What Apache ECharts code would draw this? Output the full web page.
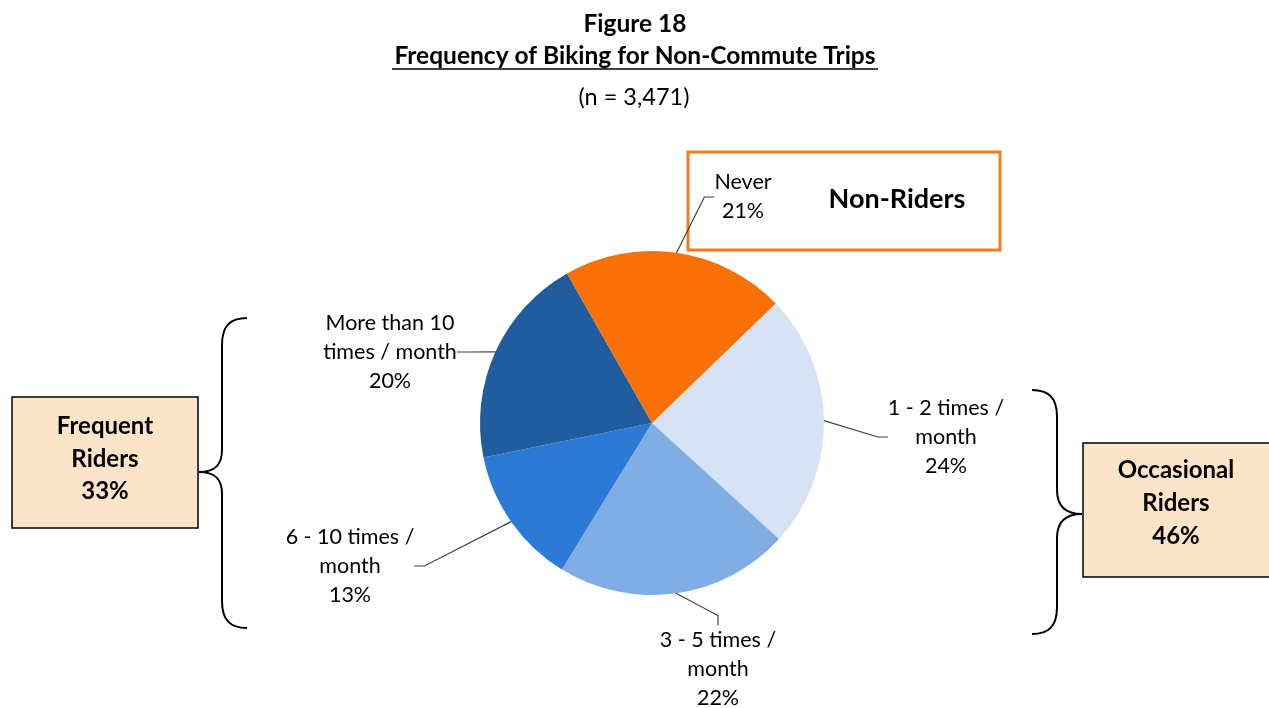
<!DOCTYPE html>
<html>
<head>
<meta charset="utf-8">
<script src="https://cdn.jsdelivr.net/npm/echarts@6/dist/echarts.min.js"></script>
<style>
  html, body { margin: 0; padding: 0; background: #fff; }
  #chart { width: 1269px; height: 708px; }
</style>
</head>
<body>
<div id="chart"></div>
<script>
// slice data, clockwise from the Never / 1-2 boundary
const categories = ['1 - 2 times /\nmonth', '3 - 5 times /\nmonth', '6 - 10 times /\nmonth', 'More than 10\ntimes / month', 'Never']
const percents = [24, 22, 13, 20, 21]
const colors = ['#D5E3F5', '#80AEE4', '#2D7AD6', '#215C9F', '#F87006']

// group boxes
const groupNames = ['Frequent\nRiders', 'Occasional\nRiders']
const groupPercents = [33, 46]

// where each slice label sits (centre of text block)
const labelPos = [[946, 437], [718, 669], [350, 566], [390, 352], [743, 197]]

const font = 'Lato, "Open Sans", sans-serif'
const chart = echarts.init(document.getElementById('chart'))

const brace = (pts) => pts.map(p => p.length === 8
  ? { type: 'bezierCurve', shape: { x1: p[0], y1: p[1], cpx1: p[2], cpy1: p[3], cpx2: p[4], cpy2: p[5], x2: p[6], y2: p[7] }, style: { stroke: '#000', lineWidth: 2, fill: null } }
  : { type: 'line', shape: { x1: p[0], y1: p[1], x2: p[2], y2: p[3] }, style: { stroke: '#000', lineWidth: 2 } })

const centered = (x, y, text, f, extra) => ({
  type: 'text', x, y,
  style: Object.assign({ text, font: f, fill: '#000', align: 'center', verticalAlign: 'middle' }, extra || {})
})

const option = {
  backgroundColor: '#fff',
  animation: false,
  graphic: [
    centered(635, 24, 'Figure 18', 'bold 24.5px ' + font),
    centered(635, 56, 'Frequency of Biking for Non-Commute Trips', 'bold 24.5px ' + font),
    { type: 'line', shape: { x1: 392, y1: 69, x2: 878, y2: 69 }, style: { stroke: '#000', lineWidth: 1.5 } },
    centered(634, 97, '(n = 3,471)', '23.5px ' + font),

    // Non-Riders box
    { type: 'rect', shape: { x: 688, y: 152, width: 312, height: 98 }, style: { fill: 'rgba(0,0,0,0)', stroke: '#F47A20', lineWidth: 3 }, z: 1 },
    centered(897, 199, 'Non-Riders', 'bold 27px ' + font),

    // Frequent riders box
    { type: 'rect', shape: { x: 12, y: 397, width: 186, height: 131 }, style: { fill: '#FCE4C8', stroke: '#000', lineWidth: 1.5 } },
    centered(105, 459, groupNames[0] + '\n' + groupPercents[0] + '%', 'bold 24px ' + font, { lineHeight: 32.5 }),

    // Occasional riders box
    { type: 'rect', shape: { x: 1083, y: 443, width: 200, height: 134 }, style: { fill: '#FCE4C8', stroke: '#000', lineWidth: 1.5 } },
    centered(1176, 503, groupNames[1] + '\n' + groupPercents[1] + '%', 'bold 24px ' + font, { lineHeight: 33 }),

    // left brace
    ...brace([
      [247, 318, 230, 318, 222, 326, 222, 345],
      [222, 345, 222, 450],
      [222, 450, 222, 465, 215, 472, 199, 472],
      [199, 472, 215, 472, 222, 479, 222, 494],
      [222, 494, 222, 601],
      [222, 601, 222, 620, 230, 628, 247, 628]
    ]),
    // right brace
    ...brace([
      [1032, 390, 1049, 390, 1057, 398, 1057, 417],
      [1057, 417, 1057, 490],
      [1057, 490, 1057, 505, 1064, 514, 1082, 514],
      [1082, 514, 1064, 514, 1057, 523, 1057, 538],
      [1057, 538, 1057, 607],
      [1057, 607, 1057, 626, 1049, 634, 1032, 634]
    ])
  ],
  series: [{
    type: 'pie',
    center: [652, 423],
    radius: 172,
    startAngle: 44,
    clockwise: true,
    avoidLabelOverlap: false,
    itemStyle: { borderWidth: 0 },
    label: {
      show: true,
      formatter: '{b}\n{c}%',
      fontFamily: font,
      fontSize: 21.5,
      lineHeight: 29,
      color: '#000'
    },
    labelLine: { show: true, length: 10, length2: 10, lineStyle: { color: '#404040', width: 1.2 } },
    labelLayout: (params) => {
      const p = labelPos[params.dataIndex]
      return { x: p[0], y: p[1], align: 'center', verticalAlign: 'middle' }
    },
    data: categories.map((name, i) => ({ name, value: percents[i], itemStyle: { color: colors[i] } }))
  }]
}

chart.setOption(option)
</script>
</body>
</html>
